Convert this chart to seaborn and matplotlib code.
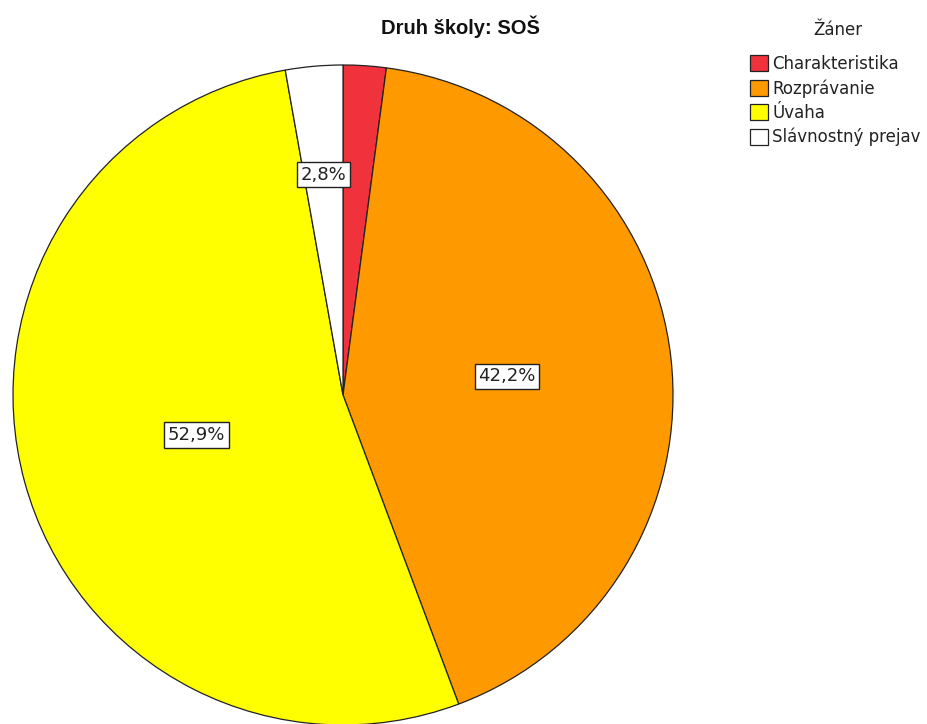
import numpy as np
import matplotlib
matplotlib.use('Agg')
import matplotlib.pyplot as plt
from matplotlib import font_manager
import seaborn as sns

# data
genres = ['Charakteristika', 'Rozprávanie', 'Úvaha', 'Slávnostný prejav']
shares = [2.1, 42.2, 52.9, 2.8]
labels = ['', '42,2%', '52,9%', '2,8%']
colors = ['#F0323C', '#FF9900', '#FFFF00', '#FFFFFF']
label_dist = [0.6, 0.5, 0.46, 0.67]

sns.set_theme(style='white')
plt.rcParams['font.family'] = ['DejaVu Sans']

# narrow bold font for the title if present
names = {f.name for f in font_manager.fontManager.ttflist}
title_font = 'Liberation Sans Narrow' if 'Liberation Sans Narrow' in names else 'Liberation Sans'

fig = plt.figure(figsize=(9.28, 7.24), dpi=100)
ax = fig.add_axes([13 / 928, -1 / 724, 660 / 928, 660 / 724])

wedges, _ = ax.pie(shares, colors=colors, startangle=90, counterclock=False,
                   wedgeprops=dict(edgecolor='#222222', linewidth=0.9))
ax.set_xlim(-1.0, 1.0)
ax.set_ylim(-1.0, 1.0)
ax.set_aspect('equal')
ax.axis('off')

# percentage labels at slice mid-angles
for w, lab, d in zip(wedges, labels, label_dist):
    if not lab:
        continue
    mid = np.deg2rad((w.theta1 + w.theta2) / 2)
    ax.text(d * np.cos(mid), d * np.sin(mid), lab, ha='center', va='center',
            fontsize=13, color='#222222',
            bbox=dict(boxstyle='square,pad=0.2', fc='white', ec='#222222', lw=1))

fig.text(460 / 928, 1 - 27 / 724, 'Druh školy: SOŠ', ha='center', va='center',
         fontsize=14.5, fontweight='bold', family=title_font, color='#111111')

# legend (title drawn separately so the gap matches)
fig.text(838 / 928, 1 - 30 / 724, 'Žáner', ha='center', va='center',
         fontsize=12, color='#222222')
leg = fig.legend(wedges, genres, loc='upper left',
                 bbox_to_anchor=(750 / 928, 1 - 55 / 724), frameon=False,
                 fontsize=12, handlelength=1.1,
                 handleheight=1.1, handletextpad=0.25, labelspacing=0.37,
                 borderpad=0, borderaxespad=0)
for t in leg.get_texts():
    t.set_color('#222222')

fig.savefig('out.png', dpi=100)
